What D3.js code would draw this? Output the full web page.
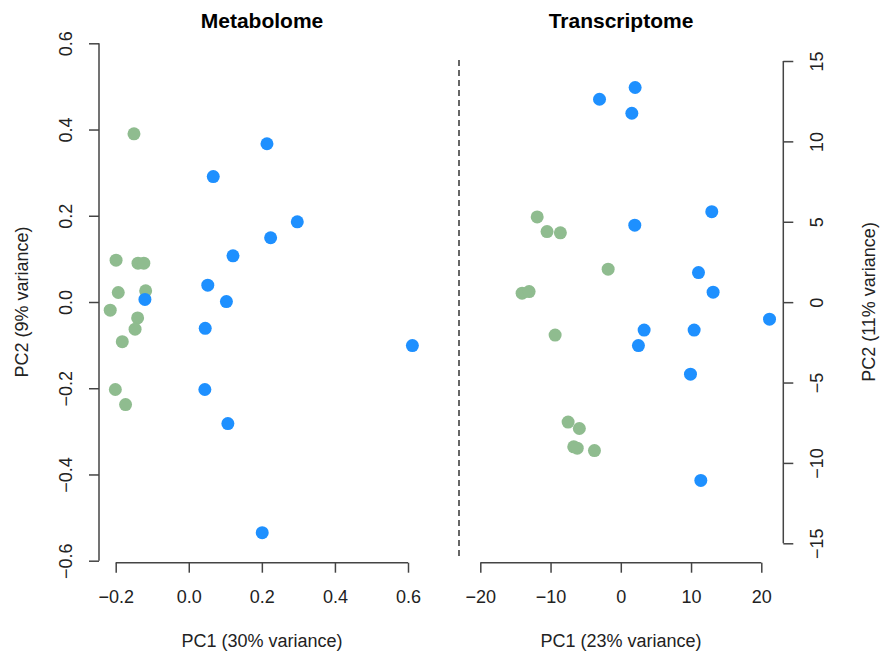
<!DOCTYPE html>
<html>
<head>
<meta charset="utf-8">
<script src="https://cdn.jsdelivr.net/npm/d3@7"></script>
<style>
  body { margin: 0; background: #fff; }
  svg text { font-family: "Liberation Sans", Arial, sans-serif; fill: #222; }
</style>
</head>
<body>
<div id="container"></div>
<script>
// Metabolome PCA scores
const metaGreenX = [-0.150, -0.199, -0.139, -0.123, -0.193, -0.118, -0.215, -0.140, -0.147, -0.182, -0.201, -0.173];
const metaGreenY = [0.390, 0.097, 0.090, 0.090, 0.022, 0.026, -0.019, -0.037, -0.063, -0.092, -0.203, -0.238];
const metaBlueX = [0.214, 0.067, 0.297, 0.224, 0.121, 0.052, 0.103, -0.120, 0.045, 0.612, 0.044, 0.107, 0.201];
const metaBlueY = [0.367, 0.291, 0.186, 0.149, 0.107, 0.039, 0.001, 0.006, -0.061, -0.101, -0.203, -0.282, -0.535];

// Transcriptome PCA scores
const tranGreenX = [-11.9, -10.5, -8.6, -1.8, -14.05, -13.05, -9.35, -7.5, -5.9, -6.7, -6.2, -3.75];
const tranGreenY = [5.30, 4.39, 4.31, 2.05, 0.56, 0.66, -2.05, -7.46, -7.86, -9.0, -9.08, -9.23];
const tranBlueX = [2.04, -3.03, 1.57, 12.95, 1.99, 11.06, 13.14, 21.17, 3.32, 10.44, 2.51, 9.92, 11.39];
const tranBlueY = [13.35, 12.62, 11.75, 5.63, 4.79, 1.84, 0.62, -1.06, -1.74, -1.74, -2.70, -4.48, -11.09];

const metaXTicks = [-0.2, 0.0, 0.2, 0.4, 0.6];
const metaYTicks = [-0.6, -0.4, -0.2, 0.0, 0.2, 0.4, 0.6];
const tranXTicks = [-20, -10, 0, 10, 20];
const tranYTicks = [-15, -10, -5, 0, 5, 10, 15];

const green = "#8fbc8f";
const blue = "#1e90ff";
const axisColor = "#444";

const width = 880, height = 653;

const svg = d3.select("#container").append("svg")
  .attr("width", width)
  .attr("height", height);

function zip(xs, ys) { return xs.map((x, i) => ({x: x, y: ys[i]})); }

function panel(opts) {
  const x = d3.scaleLinear().domain([opts.xTicks[0], opts.xTicks[opts.xTicks.length - 1]]).range(opts.xRange);
  const y = d3.scaleLinear().domain([opts.yTicks[0], opts.yTicks[opts.yTicks.length - 1]]).range(opts.yRange);

  // bottom axis
  const gx = svg.append("g")
    .attr("transform", `translate(0,${opts.xAxisY})`)
    .call(d3.axisBottom(x).tickValues(opts.xTicks).tickFormat(opts.xFmt).tickSizeOuter(0).tickSize(10));
  gx.select(".domain").attr("stroke", axisColor).attr("stroke-width", 1.5)
    .attr("d", `M${x(opts.xTicks[0])},0H${x(opts.xTicks[opts.xTicks.length - 1])}`);
  gx.selectAll(".tick line").attr("stroke", axisColor).attr("stroke-width", 1.5);
  gx.selectAll(".tick text")
    .attr("y", 34).attr("dy", "0.35em")
    .style("font-size", "18px").style("fill", "#222");

  // vertical axis
  const left = opts.side === "left";
  const axisFn = left ? d3.axisLeft(y) : d3.axisRight(y);
  const gy = svg.append("g")
    .attr("transform", `translate(${opts.yAxisX},0)`)
    .call(axisFn.tickValues(opts.yTicks).tickFormat(opts.yFmt).tickSizeOuter(0).tickSize(10));
  gy.select(".domain").attr("stroke", axisColor).attr("stroke-width", 1.5)
    .attr("d", `M0,${y(opts.yTicks[0])}V${y(opts.yTicks[opts.yTicks.length - 1])}`);
  gy.selectAll(".tick line").attr("stroke", axisColor).attr("stroke-width", 1.5);
  gy.selectAll(".tick text")
    .attr("x", 0).attr("dy", "0.35em")
    .attr("text-anchor", "middle")
    .attr("transform", `translate(${left ? -33 : 33},0) rotate(-90)`)
    .style("font-size", "18px").style("fill", "#222");

  // points
  svg.append("g").selectAll("circle")
    .data(zip(opts.greenX, opts.greenY))
    .join("circle")
    .attr("cx", d => x(d.x)).attr("cy", d => y(d.y))
    .attr("r", 6.5).attr("fill", green);
  svg.append("g").selectAll("circle")
    .data(zip(opts.blueX, opts.blueY))
    .join("circle")
    .attr("cx", d => x(d.x)).attr("cy", d => y(d.y))
    .attr("r", 6.5).attr("fill", blue);

  // titles
  svg.append("text")
    .attr("x", opts.titleX).attr("y", 28)
    .attr("text-anchor", "middle")
    .style("font-size", "21px").style("font-weight", "bold").style("fill", "#000")
    .text(opts.title);
  svg.append("text")
    .attr("x", opts.titleX).attr("y", 647)
    .attr("text-anchor", "middle")
    .style("font-size", "18px")
    .text(opts.xLabel);
  svg.append("text")
    .attr("transform", `translate(${opts.yLabelX},302) rotate(-90)`)
    .attr("dy", "0.35em")
    .attr("text-anchor", "middle")
    .style("font-size", "18px")
    .text(opts.yLabel);
}

panel({
  title: "Metabolome", titleX: 262,
  xLabel: "PC1 (30% variance)", yLabel: "PC2 (9% variance)",
  xTicks: metaXTicks, yTicks: metaYTicks,
  xFmt: d3.format(".1f"), yFmt: d3.format(".1f"),
  xRange: [115.7, 408], yRange: [560.7, 43.3],
  xAxisY: 562.7, yAxisX: 99, side: "left", yLabelX: 22,
  greenX: metaGreenX, greenY: metaGreenY, blueX: metaBlueX, blueY: metaBlueY
});

panel({
  title: "Transcriptome", titleX: 621,
  xLabel: "PC1 (23% variance)", yLabel: "PC2 (11% variance)",
  xTicks: tranXTicks, yTicks: tranYTicks,
  xFmt: d3.format("d"), yFmt: d3.format("d"),
  xRange: [480.3, 761.3], yRange: [543.3, 61],
  xAxisY: 562.7, yAxisX: 783.3, side: "right", yLabelX: 869,
  greenX: tranGreenX, greenY: tranGreenY, blueX: tranBlueX, blueY: tranBlueY
});

// dashed separator
svg.append("line")
  .attr("x1", 459).attr("x2", 459)
  .attr("y1", 60).attr("y2", 558)
  .attr("stroke", "#333").attr("stroke-width", 1.5)
  .attr("stroke-dasharray", "6,4");
</script>
</body>
</html>
